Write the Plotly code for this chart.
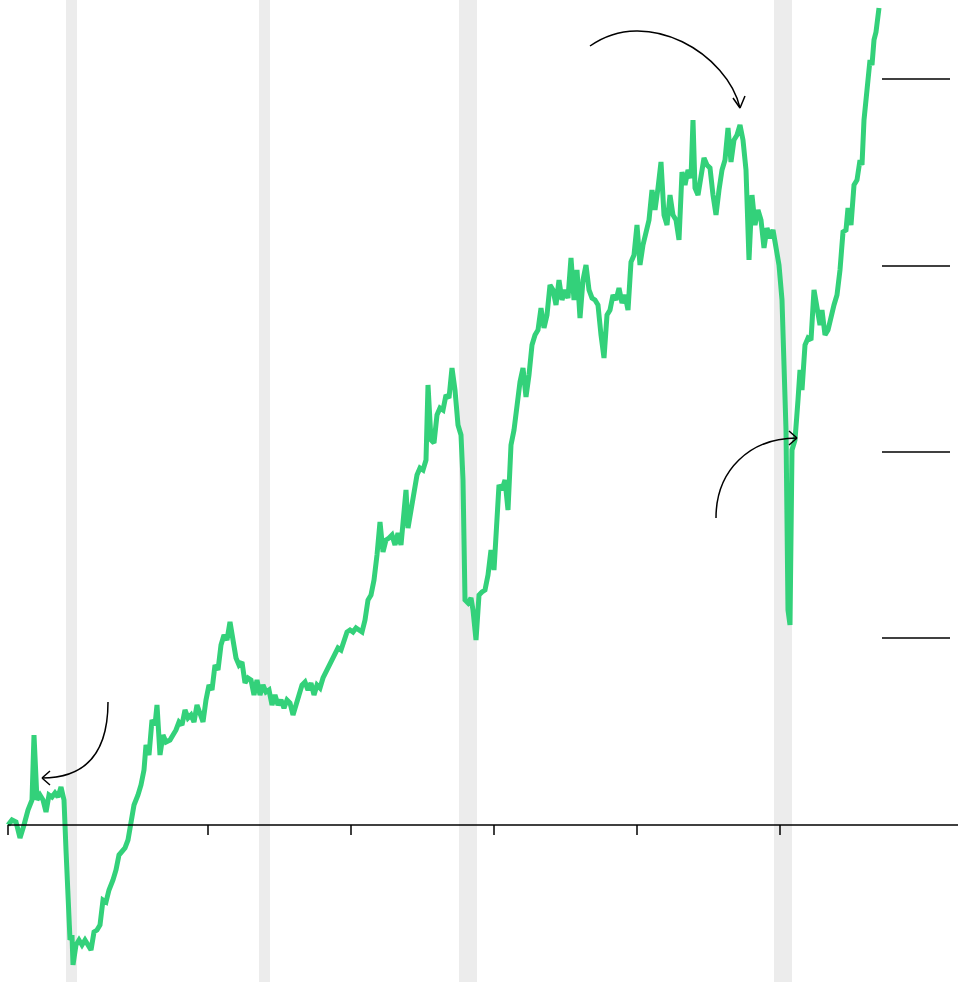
import plotly.graph_objects as go

x = [0,4,8,12,16,20,24,26,29,32,35,38,41,44,47,50,53,56,58,60,62,64,65,68,71,74,77,80,83,86,89,92,95,98,101,105,108,111,114,117,120,123,126,130,133,136,138,141,144,147,149,152,155,158,162,165,168,171,174,177,180,183,186,189,192,195,198,201,204,207,210,213,216,219,222,225,228,231,234,237,240,243,246,249,252,255,258,261,264,267,270,273,276,279,282,285,288,291,294,297,300,303,306,309,312,315,318,321,324,327,330,333,336,339,342,345,348,351,354,357,360,363,366,369,372,375,378,381,384,387,390,393,395,398,400,403,406,409,412,415,418,420,423,426,429,432,435,438,441,444,447,450,453,455,457,460,463,465,468,471,474,477,480,483,486,488,491,494,497,500,503,506,509,512,515,518,521,524,527,530,533,536,539,542,545,548,551,554,557,560,563,566,569,572,575,578,581,584,587,590,593,596,599,602,605,608,611,614,617,620,623,626,629,632,635,638,641,644,647,650,653,656,659,662,665,668,671,674,677,680,683,685,687,690,693,696,699,702,705,708,711,714,717,720,723,726,729,732,735,738,741,744,747,750,753,756,759,762,765,768,771,774,776,778,780,782,784,787,790,792,794,797,800,803,806,809,812,814,817,820,823,826,829,832,835,838,840,843,846,849,852,854,856,859,862,864,866,868,871]
y = [0,5,3,-13,0,15,25,90,25,30,25,13,30,28,32,28,38,25,-25,-85,-115,-110,-140,-120,-115,-120,-115,-120,-125,-107,-105,-100,-75,-77,-65,-55,-45,-30,-27,-23,-15,0,20,30,40,55,80,70,105,100,120,70,90,83,85,90,95,103,100,115,107,110,103,120,110,103,125,140,135,160,155,180,190,185,203,185,167,160,163,142,147,145,130,145,130,140,133,135,120,130,120,125,117,125,122,110,120,130,140,143,135,142,130,140,137,147,153,157,165,170,177,175,185,193,195,193,197,195,193,205,225,230,245,270,303,273,285,287,290,280,292,280,300,335,297,317,330,350,357,355,365,440,385,382,410,417,415,430,427,457,435,400,390,345,225,222,227,215,185,230,233,235,250,275,255,295,340,335,345,315,380,395,425,443,457,428,450,480,490,495,517,497,510,540,535,520,545,525,535,527,567,525,555,507,545,560,535,527,525,520,490,467,510,515,530,525,537,522,530,515,563,570,600,560,580,595,605,635,615,637,663,610,600,630,610,605,585,653,640,655,647,705,637,630,650,667,660,657,630,610,635,655,665,697,663,685,690,700,685,655,565,630,600,615,605,577,597,587,595,580,560,525,465,395,215,200,375,385,425,455,435,480,487,485,535,515,500,515,490,495,510,520,530,555,593,595,617,600,640,645,665,660,705,740,765,760,785,793,817]
n = min(len(x), len(y))
x, y = x[:n], y[:n]

bands = [(58, 69), (251, 262), (451, 469), (766, 784)]
ticks = [0, 200, 343, 486, 629, 772]
grid = [187, 373, 559, 746]

fig = go.Figure(go.Scatter(x=x, y=y, mode="lines",
                           line=dict(color="#33d17a", width=5), hoverinfo="skip"))
shapes = []
for a, b in bands:
    shapes.append(dict(type="rect", xref="x", yref="paper", x0=a, x1=b, y0=0, y1=1,
                       fillcolor="#ececec", line_width=0, layer="below"))
shapes.append(dict(type="line", xref="x", yref="y", x0=0, x1=950, y0=0, y1=0,
                   line=dict(color="black", width=1.5)))
for t in ticks:
    shapes.append(dict(type="line", xref="x", yref="y", x0=t, x1=t, y0=0, y1=-10,
                       line=dict(color="black", width=1.5)))
for g in grid:
    shapes.append(dict(type="line", xref="x", yref="y", x0=874, x1=942, y0=g, y1=g,
                       line=dict(color="black", width=1.5)))
al = dict(color="black", width=1.5)
shapes += [
    dict(type="path", xref="x", yref="y", path="M 100,123 Q 100,47 34,47", line=al),
    dict(type="path", xref="x", yref="y", path="M 34,47 L 42,54 M 34,47 L 42,40", line=al),
    dict(type="path", xref="x", yref="y", path="M 582,779 C 640,820 720,770 732,717", line=al),
    dict(type="path", xref="x", yref="y", path="M 732,717 L 725,727 M 732,717 L 737,729", line=al),
    dict(type="path", xref="x", yref="y", path="M 708,307 C 708,355 742,387 789,387", line=al),
    dict(type="path", xref="x", yref="y", path="M 789,387 L 781,394 M 789,387 L 781,380", line=al),
]
fig.update_layout(width=980, height=982, margin=dict(l=0, r=0, t=0, b=0),
                  paper_bgcolor="white", plot_bgcolor="white", showlegend=False,
                  xaxis=dict(range=[-8, 972], visible=False),
                  yaxis=dict(range=[-157, 825], visible=False),
                  shapes=shapes)
fig.write_html("out.html", config={"displayModeBar": False},
               post_script="document.body.style.margin='0';")
